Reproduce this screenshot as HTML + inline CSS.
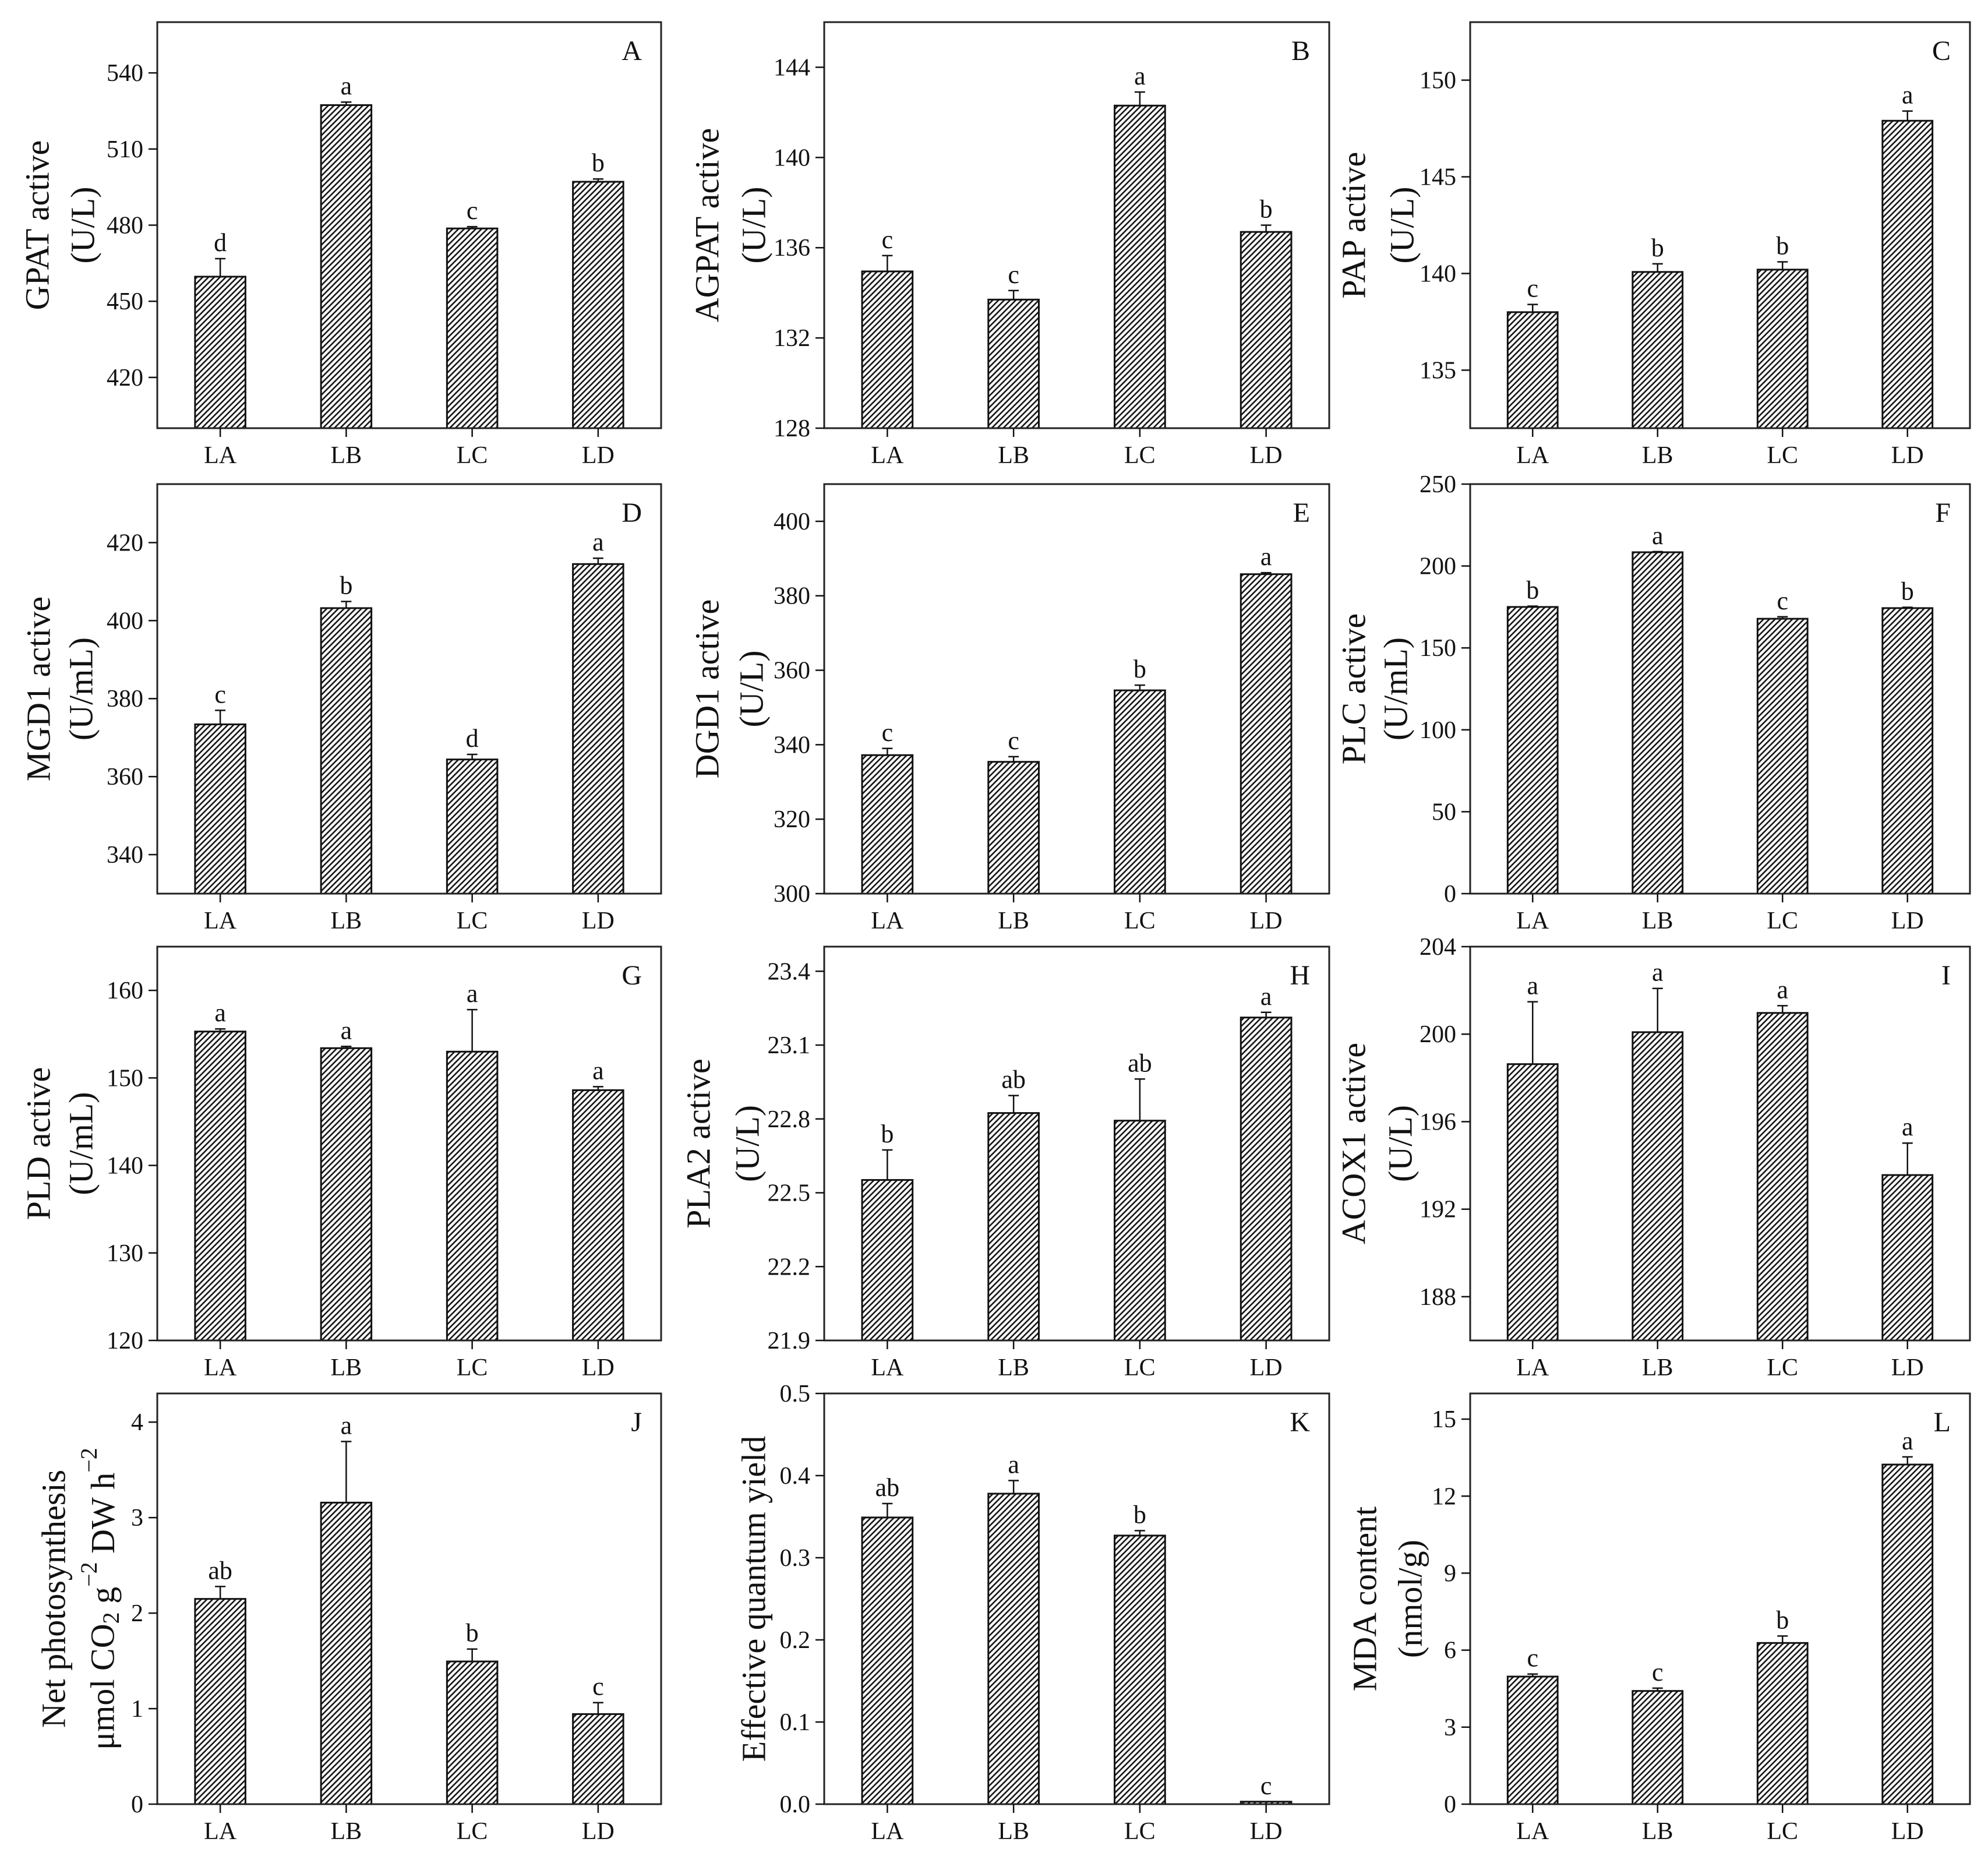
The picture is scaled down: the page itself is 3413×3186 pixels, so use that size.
<!DOCTYPE html>
<html><head><meta charset="utf-8"><title>Enzyme activity panels</title>
<style>
html,body{margin:0;padding:0;background:#fff;}
svg{display:block;font-family:"Liberation Serif","Times New Roman",serif;}
</style></head>
<body>
<svg id="fig" xmlns="http://www.w3.org/2000/svg" width="3413" height="3186" viewBox="0 0 3413 3186">
<defs>
<pattern id="hatch" patternUnits="userSpaceOnUse" width="7" height="7" patternTransform="rotate(45)">
<rect width="7" height="7" fill="#fff"/>
<line x1="1.5" y1="0" x2="1.5" y2="7" stroke="#111" stroke-width="2.6"/>
</pattern>
</defs>
<rect width="3413" height="3186" fill="#fff"/>
</svg>
<script>
const categories = ['LA','LB','LC','LD'];

const gpatValues = [459.7, 527.3, 478.7, 497.1];
const gpatErrors = [7.1, 1.2, 0.7, 1.1];
const gpatLetters = ['d','a','c','b'];
const gpatTicks = [420, 450, 480, 510, 540];

const agpatValues = [134.95, 133.7, 142.3, 136.7];
const agpatErrors = [0.7, 0.4, 0.6, 0.3];
const agpatLetters = ['c','c','a','b'];
const agpatTicks = [128, 132, 136, 140, 144];

const papValues = [138.0, 140.08, 140.2, 147.9];
const papErrors = [0.4, 0.42, 0.4, 0.5];
const papLetters = ['c','b','b','a'];
const papTicks = [135, 140, 145, 150];

const mgd1Values = [373.4, 403.2, 364.4, 414.5];
const mgd1Errors = [3.6, 1.7, 1.3, 1.5];
const mgd1Letters = ['c','b','d','a'];
const mgd1Ticks = [340, 360, 380, 400, 420];

const dgd1Values = [337.2, 335.4, 354.6, 385.8];
const dgd1Errors = [1.8, 1.4, 1.4, 0.4];
const dgd1Letters = ['c','c','b','a'];
const dgd1Ticks = [300, 320, 340, 360, 380, 400];

const plcValues = [175.0, 208.4, 167.8, 174.3];
const plcErrors = [0.5, 0.4, 1.2, 0.5];
const plcLetters = ['b','a','c','b'];
const plcTicks = [0, 50, 100, 150, 200, 250];

const pldValues = [155.3, 153.4, 153.0, 148.6];
const pldErrors = [0.3, 0.2, 4.8, 0.4];
const pldLetters = ['a','a','a','a'];
const pldTicks = [120, 130, 140, 150, 160];

const pla2Values = [22.552, 22.824, 22.793, 23.212];
const pla2Errors = [0.122, 0.071, 0.169, 0.021];
const pla2Letters = ['b','ab','ab','a'];
const pla2Ticks = [21.9, 22.2, 22.5, 22.8, 23.1, 23.4];

const acox1Values = [198.63, 200.09, 200.97, 193.56];
const acox1Errors = [2.85, 2.0, 0.33, 1.46];
const acox1Letters = ['a','a','a','a'];
const acox1Ticks = [188, 192, 196, 200, 204];

const netPhotoValues = [2.149, 3.157, 1.494, 0.943];
const netPhotoErrors = [0.13, 0.64, 0.13, 0.12];
const netPhotoLetters = ['ab','a','b','c'];
const netPhotoTicks = [0, 1, 2, 3, 4];

const yieldValues = [0.349, 0.378, 0.327, 0.003];
const yieldErrors = [0.017, 0.016, 0.006, 0];
const yieldLetters = ['ab','a','b','c'];
const yieldTicks = [0.0, 0.1, 0.2, 0.3, 0.4, 0.5];

const mdaValues = [4.97, 4.41, 6.28, 13.23];
const mdaErrors = [0.1, 0.11, 0.27, 0.3];
const mdaLetters = ['c','c','b','a'];
const mdaTicks = [0, 3, 6, 9, 12, 15];

const NS = 'http://www.w3.org/2000/svg';
const svg = document.getElementById('fig');
function mk(tag, attrs, parent) {
  const e = document.createElementNS(NS, tag);
  for (const k in attrs) e.setAttribute(k, attrs[k]);
  (parent || svg).appendChild(e);
  return e;
}

const cols = [[270, 1135], [1415, 2282], [2524, 3382]];
const rows = [[38, 735], [831, 1534], [1625, 2301], [2392, 3097]];

const panels = [
  {id:'A', key:'gpat', v:gpatValues, e:gpatErrors, l:gpatLetters, t:gpatTicks, min:400, max:560, dec:0, title:['GPAT active','(U/L)'], off:[-206,-128], c:0, r:0},
  {id:'B', key:'agpat', v:agpatValues, e:agpatErrors, l:agpatLetters, t:agpatTicks, min:128, max:146, dec:0, title:['AGPAT active','(U/L)'], off:[-201,-121], c:1, r:0},
  {id:'C', key:'pap', v:papValues, e:papErrors, l:papLetters, t:papTicks, min:132, max:153, dec:0, title:['PAP active','(U/L)'], off:[-200,-117], c:2, r:0},
  {id:'D', key:'mgd1', v:mgd1Values, e:mgd1Errors, l:mgd1Letters, t:mgd1Ticks, min:330, max:435, dec:0, title:['MGD1 active','(U/mL)'], off:[-204,-131], c:0, r:1},
  {id:'E', key:'dgd1', v:dgd1Values, e:dgd1Errors, l:dgd1Letters, t:dgd1Ticks, min:300, max:410, dec:0, title:['DGD1 active','(U/L)'], off:[-201,-125], c:1, r:1},
  {id:'F', key:'plc', v:plcValues, e:plcErrors, l:plcLetters, t:plcTicks, min:0, max:250, dec:0, title:['PLC active','(U/mL)'], off:[-200,-128], c:2, r:1},
  {id:'G', key:'pld', v:pldValues, e:pldErrors, l:pldLetters, t:pldTicks, min:120, max:165, dec:0, title:['PLD active','(U/mL)'], off:[-204,-131], c:0, r:2},
  {id:'H', key:'pla2', v:pla2Values, e:pla2Errors, l:pla2Letters, t:pla2Ticks, min:21.9, max:23.5, dec:1, title:['PLA2 active','(U/L)'], off:[-216,-132], c:1, r:2},
  {id:'I', key:'acox1', v:acox1Values, e:acox1Errors, l:acox1Letters, t:acox1Ticks, min:186, max:204, dec:0, title:['ACOX1 active','(U/L)'], off:[-200,-120], c:2, r:2},
  {id:'J', key:'net-photosynthesis', v:netPhotoValues, e:netPhotoErrors, l:netPhotoLetters, t:netPhotoTicks, min:0, max:4.3, dec:0, title:null, off:[-178,-94], c:0, r:3},
  {id:'K', key:'quantum-yield', v:yieldValues, e:yieldErrors, l:yieldLetters, t:yieldTicks, min:0, max:0.5, dec:1, title:['Effective quantum yield'], off:[-121], c:1, r:3},
  {id:'L', key:'mda', v:mdaValues, e:mdaErrors, l:mdaLetters, t:mdaTicks, min:0, max:16, dec:0, title:['MDA content','(nmol/g)'], off:[-181,-103], c:2, r:3}
];

panels.forEach(p => {
  const x0 = cols[p.c][0], x1 = cols[p.c][1];
  const y0 = rows[p.r][0], y1 = rows[p.r][1];
  const g = mk('g', {});
  
  
  const yScale = val => y1 - (val - p.min) / (p.max - p.min) * (y1 - y0);
  const slot = (x1 - x0) / categories.length;
  const xCenter = i => x0 + slot * (i + 0.5);
  const bw = slot * 0.4;

  // bars
  p.v.forEach((val, i) => {
    const top = yScale(val);
    const bar = mk('rect', {x: xCenter(i) - bw / 2, y: top, width: bw, height: Math.max(y1 - top, 0), fill: 'url(#hatch)', stroke: '#111', 'stroke-width': 3}, g);
    
    
    const et = yScale(val + p.e[i]);
    if (p.e[i] > 0) {
      const eb = mk('path', {d: 'M' + xCenter(i) + ' ' + top + 'V' + et + 'M' + (xCenter(i) - 9) + ' ' + et + 'H' + (xCenter(i) + 9), stroke: '#111', 'stroke-width': 2.5, fill: 'none'}, g);
      
      
    }
    const lt = mk('text', {x: xCenter(i), y: et - 13, 'text-anchor': 'middle', 'font-size': 44, fill: '#111'}, g);
    lt.textContent = p.l[i];
    
    
  });

  // frame
  const fr = mk('rect', {x: x0, y: y0, width: x1 - x0, height: y1 - y0, fill: 'none', stroke: '#222', 'stroke-width': 3}, g);
  
  

  // y ticks
  p.t.forEach(tv => {
    const ty = yScale(tv);
    const tk = mk('line', {x1: x0 - 15, x2: x0, y1: ty, y2: ty, stroke: '#111', 'stroke-width': 2.5}, g);
    
    
    const tl = mk('text', {x: x0 - 24, y: ty + 14, 'text-anchor': 'end', 'font-size': 42, fill: '#111'}, g);
    tl.textContent = tv.toFixed(p.dec);
    
    
  });

  // x ticks & labels
  categories.forEach((cat, i) => {
    const tk = mk('line', {x1: xCenter(i), x2: xCenter(i), y1: y1, y2: y1 + 15, stroke: '#111', 'stroke-width': 2.5}, g);
    
    
    const tl = mk('text', {x: xCenter(i), y: y1 + 60, 'text-anchor': 'middle', 'font-size': 42, fill: '#111'}, g);
    tl.textContent = cat;
    
    
  });

  // panel letter
  const pl = mk('text', {x: x1 - 33, y: y0 + 65, 'text-anchor': 'end', 'font-size': 48, fill: '#111'}, g);
  pl.textContent = p.id;
  
  

  // y axis title
  const ym = (y0 + y1) / 2;
  if (p.title) {
    p.title.forEach((line, k) => {
      const tx = x0 + p.off[k];
      const tt = mk('text', {x: tx, y: ym, transform: 'rotate(-90 ' + tx + ' ' + ym + ')', 'text-anchor': 'middle', 'dominant-baseline': 'central', 'font-size': 58, fill: '#111'}, g);
      tt.textContent = line;
      
      
    });
  } else {
    const tx1 = x0 + p.off[0];
    const t1 = mk('text', {x: tx1, y: ym, transform: 'rotate(-90 ' + tx1 + ' ' + ym + ')', 'text-anchor': 'middle', 'dominant-baseline': 'central', 'font-size': 58, fill: '#111'}, g);
    t1.textContent = 'Net photosynthesis';
    
    
    const tx2 = x0 + p.off[1];
    const t2 = mk('text', {x: tx2, y: ym, transform: 'rotate(-90 ' + tx2 + ' ' + ym + ')', 'text-anchor': 'middle', 'dominant-baseline': 'central', 'font-size': 58, fill: '#111'}, g);
    
    
    t2.innerHTML = 'μmol CO<tspan font-size="40" dy="14">2</tspan><tspan dy="-14"> g</tspan><tspan font-size="40" dy="-24">−2</tspan><tspan dy="24"> DW h</tspan><tspan font-size="40" dy="-24">−2</tspan>';
  }
});
</script>
</body></html>
